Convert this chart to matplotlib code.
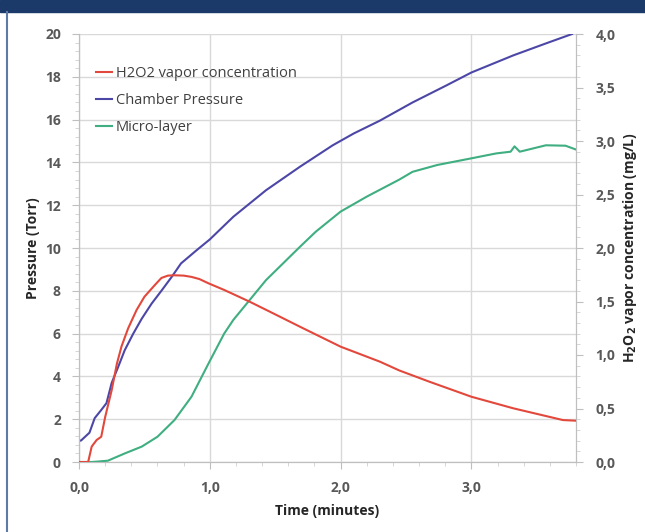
import matplotlib
matplotlib.use('Agg')
import matplotlib.pyplot as plt
from matplotlib.lines import Line2D
from matplotlib.patches import Rectangle
from matplotlib.ticker import MultipleLocator, FuncFormatter

plt.rcParams['font.family'] = ['Open Sans', 'DejaVu Sans']

# chamber pressure (Torr)
t_press = [0.0, 0.015, 0.08, 0.12, 0.17, 0.21, 0.25, 0.30, 0.35, 0.415, 0.48, 0.555,
           0.63, 0.71, 0.78, 0.90, 1.0, 1.18, 1.43, 1.69, 1.94, 2.1, 2.30, 2.55, 2.81,
           3.0, 3.32, 3.57, 3.77]
pressure = [1.0, 1.0, 1.37, 2.05, 2.43, 2.75, 3.7, 4.45, 5.23, 6.0, 6.7, 7.4,
            8.0, 8.66, 9.28, 9.9, 10.4, 11.46, 12.7, 13.8, 14.8, 15.35, 15.95, 16.8, 17.6,
            18.2, 19.0, 19.56, 20.0]

# H2O2 vapor concentration (mg/L)
t_h2o2 = [0.0, 0.07, 0.097, 0.135, 0.17, 0.2, 0.25, 0.29, 0.325, 0.376, 0.44, 0.5,
          0.58, 0.63, 0.68, 0.73, 0.80, 0.86, 0.92, 0.99, 1.11, 1.305, 1.5, 1.69, 2.0,
          2.30, 2.45, 2.68, 3.0, 3.32, 3.70, 3.8]
h2o2 = [0.0, 0.0, 0.144, 0.206, 0.236, 0.42, 0.672, 0.92, 1.08, 1.25, 1.42, 1.544,
        1.654, 1.72, 1.742, 1.745, 1.742, 1.73, 1.71, 1.67, 1.608, 1.498, 1.38, 1.264, 1.078,
        0.938, 0.855, 0.75, 0.61, 0.502, 0.392, 0.386]

# micro-layer
t_micro = [0.0, 0.1, 0.22, 0.35, 0.48, 0.6, 0.73, 0.86, 0.99, 1.11, 1.18, 1.305,
           1.43, 1.56, 1.69, 1.81, 2.0, 2.20, 2.45, 2.55, 2.74, 3.0, 3.19, 3.30,
           3.33, 3.37, 3.57, 3.72, 3.8]
micro = [0.0, 0.0, 0.06, 0.4, 0.72, 1.18, 1.96, 3.05, 4.6, 6.0, 6.64, 7.57,
         8.5, 9.28, 10.06, 10.76, 11.7, 12.4, 13.2, 13.56, 13.88, 14.19, 14.42, 14.5,
         14.75, 14.5, 14.8, 14.78, 14.6]

c_red = '#e2483c'
c_blue = '#4c47a6'
c_green = '#3fae80'
gray_txt = '#595959'

fig = plt.figure(figsize=(6.45, 5.32), dpi=100)
fig.patches.append(Rectangle((0, 1 - 12 / 532), 1, 12 / 532, transform=fig.transFigure,
                             color='#1c3a69', zorder=0))
fig.lines.append(Line2D([7 / 645, 7 / 645], [0, 1 - 12 / 532], transform=fig.transFigure,
                        color='#5f7aa6', lw=1.5))

ax = fig.add_axes([79 / 645, 1 - 462 / 532, (576 - 79) / 645, (462 - 34) / 532])
ax2 = ax.twinx()

l_blue, = ax.plot(t_press, pressure, color=c_blue, lw=1.5, zorder=3)
l_green, = ax.plot(t_micro, micro, color=c_green, lw=1.5, zorder=3)
l_red, = ax2.plot(t_h2o2, h2o2, color=c_red, lw=1.5, zorder=4)

ax.set_xlim(0, 3.8)
ax.set_ylim(0, 20)
ax2.set_ylim(0, 4)

ax.xaxis.set_major_locator(MultipleLocator(1))
ax.xaxis.set_minor_locator(MultipleLocator(0.2))
ax.yaxis.set_major_locator(MultipleLocator(2))
ax.yaxis.set_minor_locator(MultipleLocator(0.4))
ax2.yaxis.set_major_locator(MultipleLocator(0.5))
ax2.yaxis.set_minor_locator(MultipleLocator(0.1))

ax.xaxis.set_major_formatter(FuncFormatter(lambda v, p: ('%.1f' % v).replace('.', ',')))
ax2.yaxis.set_major_formatter(FuncFormatter(lambda v, p: ('%.1f' % v).replace('.', ',')))
ax.yaxis.set_major_formatter(FuncFormatter(lambda v, p: '%d' % v))

ax.grid(True, which='major', color='#d9d9d9', lw=1.0)
ax.set_axisbelow(True)

for a in (ax, ax2):
    for s in a.spines.values():
        s.set_color('#bfbfbf')
    a.spines['top'].set_visible(False)
    a.tick_params(which='major', length=5, color='#bfbfbf', labelsize=10,
                  labelcolor=gray_txt)
    a.tick_params(which='minor', length=3, color='#d0d0d0')
    for lab in a.get_xticklabels() + a.get_yticklabels():
        lab.set_fontweight('bold')
ax.tick_params(axis='x', pad=9)
ax.tick_params(axis='y', pad=8)
ax2.tick_params(axis='y', pad=9)

ax.set_xlabel('Time (minutes)', fontsize=10, fontweight='bold', color='#262626', labelpad=6)
ax.set_ylabel('Pressure (Torr)', fontsize=10, fontweight='bold', color='#262626', labelpad=4)
ax2.set_ylabel('H$_\\mathbf{2}$O$_\\mathbf{2}$ vapor concentration (mg/L)', fontsize=10,
               fontweight='bold', color='#262626', labelpad=4)

leg = ax2.legend([l_red, l_blue, l_green],
                 ['H2O2 vapor concentration', 'Chamber Pressure', 'Micro-layer'],
                 loc='upper left', bbox_to_anchor=(96 / 645, 1 - 66 / 532),
                 bbox_transform=fig.transFigure, frameon=False, fontsize=10.5,
                 handlelength=1.1, handletextpad=0.25, labelspacing=0.82,
                 borderpad=0, borderaxespad=0)
for txt in leg.get_texts():
    txt.set_color('#404040')

fig.savefig('out.png', dpi=100, facecolor='white')
